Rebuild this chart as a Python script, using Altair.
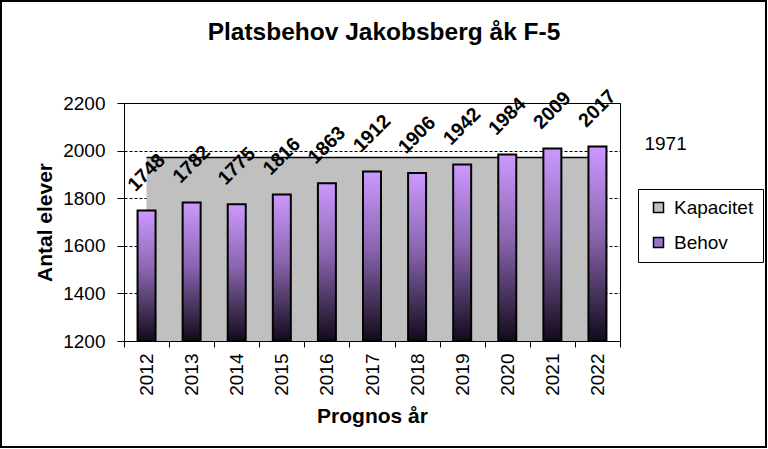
import altair as alt
import pandas as pd

years = ["2012", "2013", "2014", "2015", "2016", "2017", "2018", "2019", "2020", "2021", "2022"]
behov = [1748, 1782, 1775, 1816, 1863, 1912, 1906, 1942, 1984, 2009, 2017]
kapacitet = [1971, 1971, 1971, 1971, 1971, 1971, 1971, 1971, 1971, 1971, 1971]
y_ticks = [1200, 1400, 1600, 1800, 2000, 2200]
series = ["Kapacitet", "Behov"]

FONT = "Liberation Sans"

df = pd.DataFrame({"year": years, "behov": behov, "kapacitet": kapacitet,
                   "serie": ["Kapacitet"] * len(years)})
last = pd.DataFrame({"year": [years[-1]], "kapacitet": [kapacitet[-1]]})

x_enc = alt.X("year:N", sort=years,
              scale=alt.Scale(paddingInner=0, paddingOuter=0),
              axis=alt.Axis(title="Prognos år", labelAngle=270, tickBand="extent",
                            labelPadding=6, tickSize=6, titlePadding=10))
y_scale = alt.Scale(domain=[1200, 2200], zero=False, nice=False)
y_axis = alt.Axis(title="Antal elever", values=y_ticks, format="d", grid=True, tickSize=7,
                  labelPadding=12, titlePadding=7,
                  gridDash=[3, 2], gridColor="black", gridWidth=1, gridOpacity=1)

base = alt.Chart(df)

area = base.mark_area(opacity=1).encode(
    x=x_enc,
    y=alt.Y("kapacitet:Q", scale=y_scale, axis=y_axis),
    y2=alt.datum(1200),
    color=alt.Color("serie:N",
                    scale=alt.Scale(domain=series, range=["#C0C0C0", "#9B72C8"]),
                    legend=alt.Legend(title=None, orient="none", legendX=514, legendY=86,
                                      symbolType="square", symbolSize=100, symbolOffset=2,
                                      symbolStrokeColor="black", symbolStrokeWidth=1.5,
                                      labelFont=FONT, labelFontSize=19, labelColor="black",
                                      labelOffset=6, rowPadding=15, padding=9,
                                      strokeColor="black", fillColor="white")),
)

line = base.mark_line(color="black", strokeWidth=1.5).encode(
    x=alt.X("year:N", sort=years),
    y=alt.Y("kapacitet:Q", scale=y_scale),
)

grad = alt.Gradient(gradient="linear", x1=0, x2=0, y1=0, y2=1,
                    stops=[alt.GradientStop(color="#CC99FF", offset=0),
                           alt.GradientStop(color="#8A66B0", offset=0.45),
                           alt.GradientStop(color="#120A1A", offset=1)])

bars = base.mark_bar(size=18, color=grad, stroke="black", strokeWidth=2).encode(
    x=alt.X("year:N", sort=years),
    y=alt.Y("behov:Q", scale=y_scale),
    y2=alt.datum(1200),
)

labels = base.mark_text(angle=315, align="center", baseline="middle", font=FONT,
                        fontSize=19.5, fontWeight="bold", color="black", yOffset=-38).encode(
    x=alt.X("year:N", sort=years),
    y=alt.Y("behov:Q", scale=y_scale),
    text=alt.Text("behov:Q", format="d"),
)

cap_label = alt.Chart(last).mark_text(align="left", baseline="middle", font=FONT,
                                      fontSize=19, color="black", dx=47, dy=-14).encode(
    x=alt.X("year:N", sort=years),
    y=alt.Y("kapacitet:Q", scale=y_scale),
    text=alt.Text("kapacitet:Q", format="d"),
)

frame = alt.Chart(alt.Data(values=[{"a": 1}])).mark_rect(
    filled=False, stroke="black", strokeWidth=2).encode(
    x=alt.value(-123), x2=alt.value(642), y=alt.value(-102), y2=alt.value(344)
)

chart = alt.layer(area, line, bars, labels, cap_label, frame).properties(
    width=496, height=238,
    autosize=alt.AutoSizeParams(type="none"),
    padding={"left": 124, "top": 103, "right": 148, "bottom": 108},
    title=alt.TitleParams("Platsbehov Jakobsberg åk F-5", font=FONT, fontSize=24.5,
                          fontWeight="bold", color="black", anchor="middle",
                          dx=12, offset=-64, baseline="alphabetic"),
    background="white",
).configure_view(
    stroke="black", strokeWidth=1
).configure_axis(
    labelFont=FONT, labelFontSize=19, labelColor="black",
    titleFont=FONT, titleFontSize=21, titleFontWeight="bold", titleColor="black",
    domainColor="black", domainWidth=1, tickColor="black", tickWidth=1,
)

chart.save("out.html", embed_options={"renderer": "svg", "actions": False})
